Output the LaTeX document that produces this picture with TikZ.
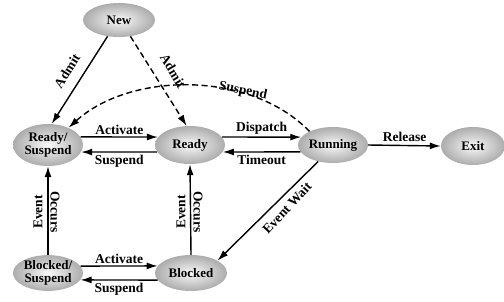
\documentclass[tikz,border=0pt]{standalone}
\usepackage{fontspec}
\setmainfont{Liberation Serif}
\usetikzlibrary{arrows.meta,shapes.geometric}

\begin{document}
\begin{tikzpicture}[x=1pt, y=-1pt,
  state/.style={ellipse, inner color=gray!5, outer color=gray!65, inner sep=0pt,
    minimum width=70pt, minimum height=36pt, align=center,
    font=\fontsize{13}{13.5}\selectfont\bfseries},
  trans/.style={-{Latex[length=11pt,width=7pt]}, line width=1.4pt},
  dashtrans/.style={trans, dash pattern=on 6pt off 3.5pt},
  lbl/.style={font=\fontsize{13.5}{14}\selectfont\bfseries, inner sep=1pt}]
  \useasboundingbox (0,0) rectangle (504,301);

  % states
  \node[state, minimum width=72pt, minimum height=34pt] (new) at (119,20) {New};
  \node[state, minimum height=42pt] (rdysus) at (48,145) {Ready/\\Suspend};
  \node[state, minimum height=38pt] (ready) at (190,145) {Ready};
  \node[state] (running) at (333,145) {Running};
  \node[state, minimum width=64pt, minimum height=38pt] (exit) at (473,146) {Exit};
  \node[state, minimum height=34pt] (blksus) at (48,273) {Blocked/\\Suspend};
  \node[state, minimum width=72pt] (blocked) at (191,273) {Blocked};

  % admission
  \draw[trans] (new.235) -- (rdysus.80);
  \node[lbl, rotate=58] at (67,71) {Admit};
  \draw[dashtrans] (new.305) -- (ready.100);
  \node[lbl, rotate=-59] at (173,71) {Admit};

  % suspend from running
  \draw[dashtrans] (running.150)
    .. controls (250,70) and (130,72) .. (rdysus.40);
  \node[lbl, rotate=-12] at (243,91) {Suspend};

  % upper row
  \draw[trans] (rdysus.14) -- (ready.166)
    node[lbl, midway, above=1pt] {Activate};
  \draw[trans] (ready.192) -- (rdysus.348)
    node[lbl, midway, below=1pt] {Suspend};
  \draw[trans] (ready.14) -- (running.166)
    node[lbl, midway, above=1pt] {Dispatch};
  \draw[trans] (running.192) -- (ready.348)
    node[lbl, midway, below=1pt] {Timeout};
  \draw[trans] (running.east) -- (exit.west)
    node[lbl, midway, above=2pt] {Release};

  % event wait
  \draw[trans] (running.228) -- (blocked.25);
  \node[lbl, rotate=47] at (287,208) {Event Wait};

  % event occurs
  \foreach \lo/\up/\x in {blksus/rdysus/47, blocked/ready/190} {
    \draw[trans] (\lo.north) -- (\up.south);
    \node[lbl, rotate=90] at (\x-9,212) {Event};
    \node[lbl, rotate=-90] at (\x+8,212) {Occurs};
  }

  % lower row
  \draw[trans] (blksus.12) -- (blocked.168)
    node[lbl, midway, above=1pt] {Activate};
  \draw[trans] (blocked.192) -- (blksus.348)
    node[lbl, midway, below=1pt] {Suspend};
\end{tikzpicture}
\end{document}
